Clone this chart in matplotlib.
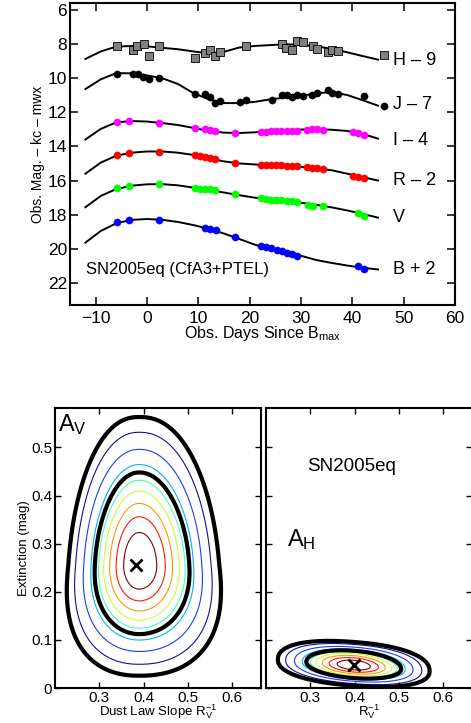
#!/usr/bin/env python3
"""SN2005eq light curves and dust-law extinction contours."""

import numpy as np
import matplotlib
matplotlib.use('Agg')
import matplotlib.pyplot as plt

plt.rcParams['font.family'] = ['Liberation Sans', 'DejaVu Sans']
plt.rcParams['mathtext.default'] = 'regular'

# ---- light curve data (obs. days since B max, magnitude incl. offsets) ----
h_days = [-5.8, -2.8, -1.9, -0.6, 0.3, 2.4, 9.4, 11.3, 12.3, 13.3, 14.2, 19.2,
          26.3, 27.1, 28.2, 29.2, 30.3, 32.3, 33.2, 35.2, 36.1, 37.2, 46.2]
h_mags = [8.11, 8.34, 8.11, 7.99, 8.69, 8.11, 8.85, 8.54, 8.34, 8.69, 8.46, 8.15,
          7.99, 8.24, 8.38, 7.83, 7.91, 8.11, 8.30, 8.50, 8.38, 8.44, 8.67]

j_days = [-5.8, -2.8, -1.8, -0.7, 0.3, 2.4, 9.4, 11.3, 12.3, 13.3, 14.2, 18.1,
          19.2, 24.3, 26.3, 27.2, 28.2, 29.2, 30.3, 32.2, 33.2, 35.2, 36.1, 37.2,
          42.2, 46.2]
j_mags = [9.75, 9.79, 9.75, 9.96, 10.04, 10.0, 10.92, 10.94, 11.11, 11.48, 11.33,
          11.40, 11.27, 11.27, 11.01, 10.98, 11.11, 11.01, 11.07, 10.98, 10.88,
          10.72, 10.88, 10.96, 11.07, 11.66]

i_days = [-5.8, -3.6, 2.4, 9.4, 11.3, 12.3, 13.3, 17.2, 22.2, 23.2, 24.2, 25.2,
          26.2, 27.2, 28.2, 29.2, 31.2, 32.2, 33.2, 34.2, 40.2, 41.2, 42.3]
i_mags = [12.56, 12.50, 12.63, 12.93, 12.99, 13.05, 13.10, 13.22, 13.15, 13.14,
          13.13, 13.12, 13.11, 13.10, 13.10, 13.11, 13.03, 13.01, 13.01, 13.05,
          13.17, 13.22, 13.35]

r_days = [-5.8, -3.6, 2.4, 9.4, 10.3, 11.3, 12.3, 13.3, 17.2, 22.2, 23.2, 24.2,
          25.2, 26.2, 27.2, 28.2, 29.2, 31.2, 32.2, 33.2, 34.2, 40.2, 41.2, 42.3]
r_mags = [14.53, 14.41, 14.33, 14.53, 14.58, 14.63, 14.68, 14.75, 14.98, 15.07,
          15.09, 15.10, 15.11, 15.12, 15.13, 15.14, 15.16, 15.22, 15.24, 15.27,
          15.31, 15.74, 15.77, 15.83]

v_days = [-5.8, -3.6, 2.4, 9.4, 10.3, 11.3, 12.3, 13.3, 17.2, 22.2, 23.2, 24.2,
          25.2, 26.2, 27.2, 28.2, 29.2, 31.3, 32.3, 34.2, 41.2, 42.3]
v_mags = [16.44, 16.30, 16.20, 16.44, 16.47, 16.49, 16.52, 16.58, 16.79, 17.05,
          17.08, 17.11, 17.13, 17.16, 17.19, 17.22, 17.25, 17.42, 17.50, 17.46,
          17.90, 18.05]

b_days = [-5.8, -3.6, 2.4, 11.3, 12.3, 13.4, 17.2, 22.2, 23.2, 24.2, 25.3, 26.3,
          27.2, 28.2, 29.3, 41.2, 42.3]
b_mags = [18.45, 18.33, 18.29, 18.76, 18.83, 18.90, 19.31, 19.80, 19.88, 19.95,
          20.04, 20.13, 20.24, 20.30, 20.41, 21.02, 21.20]

# model fit curves sampled every 3 days
fit_days = [-12, -9, -6, -3, 0, 3, 6, 9, 12, 15, 18, 21, 24, 27, 30, 33, 36, 39, 42, 45]
h_fit = [8.89, 8.45, 8.17, 8.13, 8.15, 8.24, 8.32, 8.45, 8.56, 8.47, 8.22, 8.13,
         8.08, 8.03, 8.06, 8.15, 8.30, 8.50, 8.72, 8.93]
j_fit = [10.65, 10.08, 9.72, 9.73, 9.85, 10.02, 10.35, 10.88, 11.25, 11.47, 11.47,
         11.40, 11.25, 11.15, 11.05, 10.90, 10.82, 11.00, 11.30, 11.62]
i_fit = [13.60, 12.98, 12.60, 12.52, 12.55, 12.64, 12.75, 12.92, 13.10, 13.20,
         13.22, 13.18, 13.12, 13.08, 13.02, 12.99, 13.03, 13.10, 13.27, 13.55]
r_fit = [15.60, 14.95, 14.55, 14.37, 14.30, 14.30, 14.37, 14.50, 14.70, 14.88,
         15.00, 15.06, 15.10, 15.15, 15.20, 15.28, 15.40, 15.60, 15.80, 16.00]
v_fit = [17.56, 16.90, 16.50, 16.30, 16.22, 16.21, 16.28, 16.41, 16.55, 16.70,
         16.86, 17.00, 17.10, 17.20, 17.30, 17.42, 17.57, 17.75, 17.95, 18.17]
b_fit = [19.63, 18.95, 18.50, 18.30, 18.25, 18.30, 18.42, 18.60, 18.82, 19.10,
         19.42, 19.75, 20.00, 20.20, 20.40, 20.65, 20.82, 20.97, 21.10, 21.20]

band_labels = ['H \u2013 9', 'J \u2013 7', 'I \u2013 4', 'R \u2013 2', 'V', 'B + 2']
label_mags = [8.98, 11.56, 13.65, 16.0, 18.14, 21.18]

# ---- extinction contour model parameters ----
# (centre x, centre y, sigma left, sigma right, sigma down, sigma up, shear, taper)
av_shape = (0.390, 0.256, 0.050, 0.0565, 0.072, 0.096, 0.0, 0.05)
ah_shape = (0.398, 0.047, 0.0535, 0.0535, 0.0132, 0.0152, 0.07, 0.0)
av_best = (0.382, 0.256)
ah_best = (0.398, 0.048)
color_levels = [0.7, 1.04, 1.33, 1.6, 1.83, 2.17, 2.5, 2.87]
level_colors = ['#800000', '#ff1a00', '#ff9900', '#ccff33', '#4dffb3',
                '#00b3ff', '#1a3dff', '#10109a']
black_levels = [2.0, 3.2]
ext_ticks = [0, 0.1, 0.2, 0.3, 0.4, 0.5]
ext_ticklabels = ['0', '0.1', '0.2', '0.3', '0.4', '0.5']
slope_ticks = [0.3, 0.4, 0.5, 0.6]


def sigma_dist(X, Y, shape):
    cx, cy, sxl, sxr, syd, syu, shear, taper = shape
    dx = X - cx
    dy = Y - cy + shear * dx
    sy = np.where(dy < 0, syd, syu)
    v = dy / sy
    sx = np.where(dx < 0, sxl, sxr) * (1 - taper * np.clip(v, -3, 4))
    u = np.abs(dx / sx)
    v = np.abs(v)
    r0 = np.hypot(u, v)
    # contours get a little boxier further out
    p = 2.0 + 0.3 * np.clip((r0 - 1.8) / 1.4, 0, 1)
    return (u ** p + v ** p) ** (1.0 / p)


fig = plt.figure(figsize=(4.71, 7.23), dpi=100)

# ---- top: light curves ----
ax = fig.add_axes([0.1486, 0.5781, 0.8174, 0.4177])
bands = [
    (h_days, h_mags, h_fit, 's', '#808080'),
    (j_days, j_mags, j_fit, 'o', 'black'),
    (i_days, i_mags, i_fit, 'o', '#ff00ff'),
    (r_days, r_mags, r_fit, 'o', '#ff0000'),
    (v_days, v_mags, v_fit, 'o', '#00ff00'),
    (b_days, b_mags, b_fit, 'o', '#0000ff'),
]
for days, mags, fit, mk, col in bands:
    ax.plot(fit_days, fit, color='black', lw=1.4, zorder=2)
    if mk == 's':
        ax.plot(days, mags, ls='none', marker='s', ms=5.5, mfc=col,
                mec='black', mew=0.6, zorder=3)
    else:
        ax.plot(days, mags, ls='none', marker='o', ms=5.2, mfc=col,
                mec=col, mew=0.3, zorder=3)
for lab, ym in zip(band_labels, label_mags):
    ax.text(48.0, ym, lab, fontsize=13, va='center', ha='left')
ax.text(-11.9, 21.2, 'SN2005eq (CfA3+PTEL)', fontsize=12, va='center', ha='left')

ax.set_xlim(-15, 60)
ax.set_ylim(23.28, 5.62)
ax.set_xticks(range(-10, 61, 10))
ax.set_yticks(range(6, 23, 2))
ax.tick_params(direction='in', top=True, right=True, length=6, width=1.1,
               labelsize=12.5, pad=4)
ax.tick_params(axis='y', pad=2)
for s in ax.spines.values():
    s.set_linewidth(1.5)
ax.set_xlabel('Obs. Days Since B$_{max}$', fontsize=11.5, labelpad=-1)
ax.set_ylabel('Obs. Mag. \u2013 kc \u2013 mwx', fontsize=10, labelpad=2)

# ---- bottom: extinction contours ----
xg = np.linspace(0.19, 0.68, 500)
yg = np.linspace(-0.01, 0.6, 500)
X, Y = np.meshgrid(xg, yg)

axl = fig.add_axes([0.1168, 0.0484, 0.4374, 0.3873])
axr = fig.add_axes([0.5648, 0.0484, 0.4374, 0.3873])

for a, shape, best in [(axl, av_shape, av_best), (axr, ah_shape, ah_best)]:
    R = sigma_dist(X, Y, shape)
    a.contour(X, Y, R, levels=color_levels, colors=level_colors,
              linewidths=0.8)
    a.contour(X, Y, R, levels=black_levels, colors='black', linewidths=3.0)
    a.plot(best[0], best[1], marker='x', color='black', ms=8, mew=2)
    a.set_xlim(0.2, 0.665)
    a.set_ylim(0, 0.582)
    a.set_xticks(slope_ticks)
    a.set_xticklabels([str(t) for t in slope_ticks])
    a.set_yticks(ext_ticks)
    a.tick_params(direction='in', top=True, right=True, length=4, width=1.0,
                  labelsize=11, pad=2)
    for s in a.spines.values():
        s.set_linewidth(1.5)

axl.set_yticklabels(ext_ticklabels)
axr.set_yticklabels([])
axl.set_xlabel('Dust Law Slope R$_V^{-1}$', fontsize=9.5, labelpad=-2)
axr.set_xlabel('R$_V^{-1}$', fontsize=9.5, labelpad=-2)
axl.set_ylabel('Extinction (mag)', fontsize=9.5, labelpad=1)

axl.text(0.015, 0.985, 'A$_V$', transform=axl.transAxes, fontsize=17,
         va='top', ha='left')
axr.text(0.248, 0.308, 'A$_H$', fontsize=17, va='center', ha='left')
axr.text(0.293, 0.46, 'SN2005eq', fontsize=13.5, va='center', ha='left')

fig.savefig('out.png', dpi=100)
